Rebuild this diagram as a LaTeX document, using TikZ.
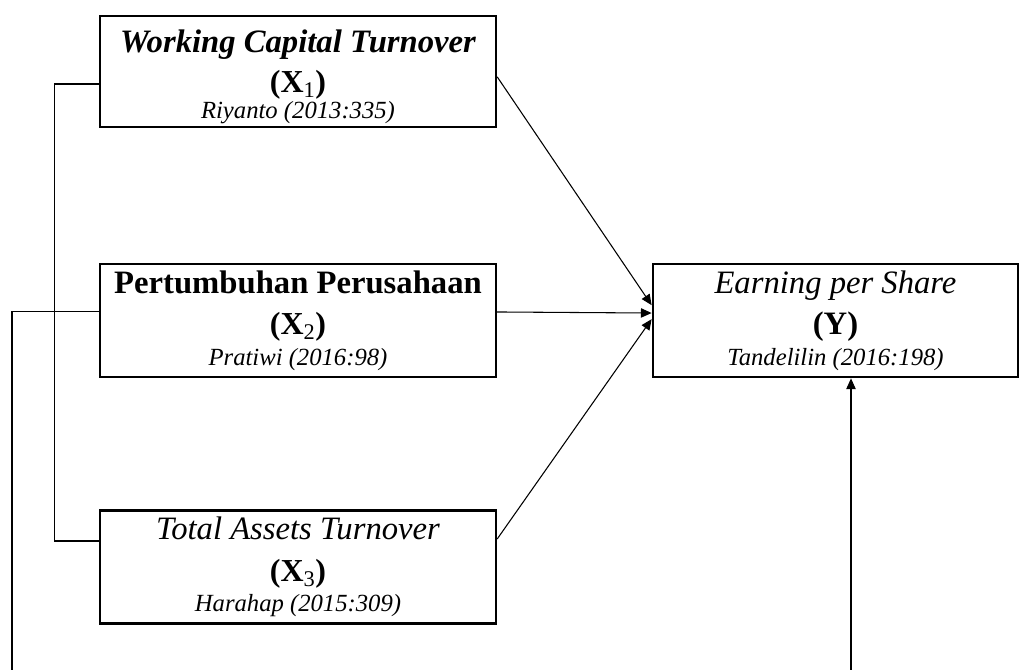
\documentclass[tikz,border=0pt]{standalone}
\usepackage{fontspec}
\setmainfont{Liberation Serif}
\usetikzlibrary{arrows.meta,shadows}
\tikzstyle{var}=[draw, line width=1.8pt, fill=white, align=center, inner sep=0pt,
minimum width=297pt, minimum height=83pt, font=\fontsize{24.5}{30}\selectfont,
drop shadow={shadow xshift=0.8pt, shadow yshift=-0.8pt, fill=black!45, opacity=1}]
\tikzstyle{link}=[line width=0.8pt]
\tikzstyle{arr}=[link, -{Triangle[length=8pt,width=7pt]}]
\newcommand{\vsym}[1]{{\fontsize{24}{30}\selectfont\bfseries(X\textsubscript{\normalfont #1})}}
\newcommand{\vref}{\fontsize{18.5}{22}\selectfont\itshape}

\begin{document}
\begin{tikzpicture}[x=0.75pt,y=-0.75pt]
\useasboundingbox (0,0) rectangle (1035,670);

\node (x1) at (298,71.5) [var] {\raisebox{-11pt}[0pt][0pt]{\begin{tabular}{@{}c@{}}
{\bfseries\itshape Working Capital Turnover}\\[0pt] \vsym{1}\\[-10.5pt] {\vref Riyanto (2013:335)}
\end{tabular}}};
\node (x2) at (298,320.5) [var, minimum height=85pt] {{\bfseries Pertumbuhan Perusahaan}\\[1pt]
\vsym{2}\\[-7pt] {\vref Pratiwi (2016:98)}};
\node (x3) at (298,567) [var, minimum height=85pt] {{\itshape Total Assets Turnover}\\[1pt]
\vsym{3}\\[-7pt] {\vref Harahap (2015:309)}};
\node (y) at (835.5,320.5) [var, minimum width=274pt, minimum height=85pt] {{\itshape Earning per Share}\\[1pt]
{\bfseries(Y)}\\[-7pt] {\vref Tandelilin (2016:198)}};

\coordinate (out1) at (12,670);
\coordinate (in1) at (851,670);

\draw [arr] ([yshift=-4pt]x1.east) -- ([yshift=11.5pt]y.west);
\draw [arr] ([yshift=6.4pt]x2.east) -- ([yshift=5.6pt]y.west);
\draw [arr] ([yshift=21pt]x3.east) -- ([yshift=1pt]y.west);

\draw [link] ([yshift=-9.4pt]x1.west) -- ++(-44,0) |- ([yshift=19.5pt]x3.west);
\draw [link] ([yshift=7pt]x2.west) -| (out1);
\draw [arr] (in1) -- (in1 |- y.south);

\end{tikzpicture}
\end{document}
